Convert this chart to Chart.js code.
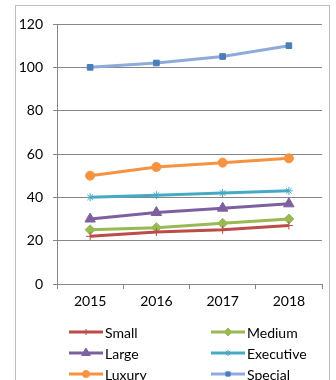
<!DOCTYPE html>
<html>
<head>
<meta charset="utf-8">
<script src="https://cdn.jsdelivr.net/npm/chart.js@4"></script>
<style>
  body { margin: 0; background: #fff; }
  #wrap { position: relative; width: 336px; height: 380px; overflow: hidden; }
  #frame { position: absolute; left: 15px; top: 5px; width: 313px; height: 400px; border: 1px solid #bfbfbf; }
  #ctx { position: absolute; left: 0; top: 0; }
</style>
</head>
<body>
<div id="wrap">
  <div id="frame"></div>
  <canvas id="ctx" width="336" height="380"></canvas>
</div>
<script>
const years = ["2015", "2016", "2017", "2018"];
const seriesNames = ["Small", "Medium", "Large", "Executive", "Luxury", "Special"];
const small = [22, 24, 25, 27];
const medium = [25, 26, 28, 30];
const large = [30, 33, 35, 37];
const executive = [40, 41, 42, 43];
const luxury = [50, 54, 56, 58];
const special = [100, 102, 105, 110];
const yTicks = [0, 20, 40, 60, 80, 100, 120];

const ctx = document.getElementById("ctx");
const font = { family: "Lato, 'Open Sans', sans-serif", size: 14 };

function series(label, data, line, marker, style, radius) {
  return {
    label: label,
    data: data,
    borderColor: line,
    backgroundColor: marker,
    pointBackgroundColor: marker,
    pointBorderColor: marker,
    pointStyle: style,
    pointRadius: radius,
    pointBorderWidth: 1,
    borderWidth: 3,
    tension: 0,
  };
}

// two-column legend like the original
const legendPlugin = {
  id: "twoColLegend",
  afterDraw(chart) {
    const c = chart.ctx;
    chart.data.datasets.forEach((ds, i) => {
      const x = i % 2 ? 211 : 69;
      const y = 332 + Math.floor(i / 2) * 21;
      c.save();
      c.strokeStyle = ds.borderColor;
      c.lineWidth = 3;
      c.beginPath();
      c.moveTo(x, y);
      c.lineTo(x + 34, y);
      c.stroke();
      c.fillStyle = ds.pointBackgroundColor;
      c.strokeStyle = ds.pointBorderColor;
      c.lineWidth = 1;
      Chart.helpers.drawPoint(c, { pointStyle: ds.pointStyle, radius: ds.pointRadius - 1, borderWidth: 1, rotation: 0 }, x + 17, y);
      c.fillStyle = "#000";
      c.font = "14px Lato, 'Open Sans', sans-serif";
      c.textBaseline = "middle";
      c.fillText(ds.label, x + 36, y + 1);
      c.restore();
    });
  },
};

new Chart(ctx, {
  type: "line",
  data: {
    labels: years,
    datasets: [
      series(seriesNames[0], small, "#be4b48", "#be4b48", "cross", 4),
      series(seriesNames[1], medium, "#98b954", "#98b954", "rectRot", 5),
      series(seriesNames[2], large, "#7d60a0", "#7d60a0", "triangle", 6),
      series(seriesNames[3], executive, "#46aac5", "#46aac5", "star", 4),
      series(seriesNames[4], luxury, "#f69240", "#f69240", "circle", 4.5),
      series(seriesNames[5], special, "#8fabdb", "#4a7ebb", "rect", 4),
    ],
  },
  options: {
    responsive: false,
    animation: false,
    devicePixelRatio: 1,
    layout: { padding: { left: 0, right: 14, top: 24, bottom: 66 } },
    plugins: { legend: { display: false }, tooltip: { enabled: false } },
    scales: {
      x: {
        offset: true,
        afterFit: (s) => { s.height = 30; },
        grid: { offset: true, drawOnChartArea: false, drawTicks: true, tickLength: 5, color: "#868686" },
        border: { display: true, color: "#868686" },
        ticks: { color: "#000", font: font, padding: 4 },
      },
      y: {
        min: 0,
        max: 120,
        afterFit: (s) => { s.width = 57; },
        afterBuildTicks: (s) => { s.ticks = yTicks.map((v) => ({ value: v })); },
        grid: { color: "#868686", tickLength: 4 },
        border: { display: true, color: "#868686" },
        ticks: { color: "#000", font: font, padding: 10 },
      },
    },
  },
  plugins: [legendPlugin],
});
</script>
</body>
</html>
